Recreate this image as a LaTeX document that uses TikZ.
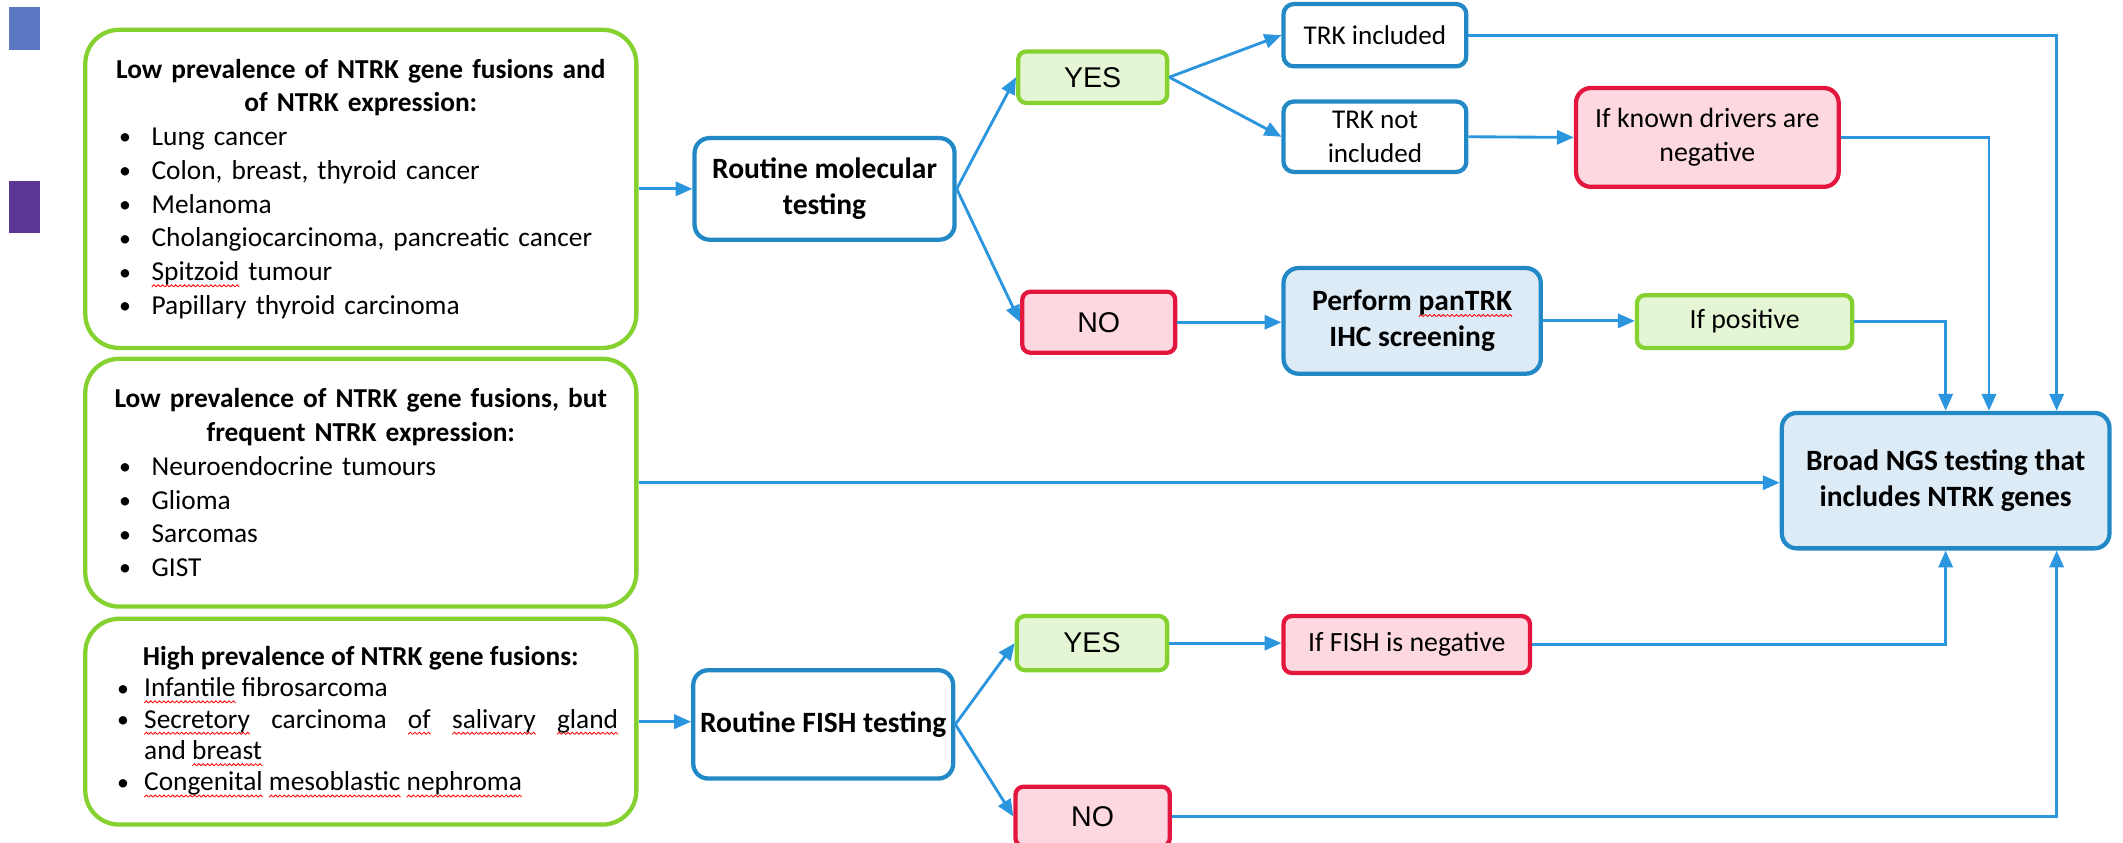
\documentclass[tikz,border=0pt]{standalone}
\usepackage{fontspec}
\setmainfont{Carlito}
\newfontfamily\arialfont{Liberation Sans}
\usetikzlibrary{arrows.meta}
\setlength\parindent{0pt}

\definecolor{leafgreen}{HTML}{84D12F}
\definecolor{leaffill}{HTML}{E5F6D5}
\definecolor{seablue}{HTML}{2288C6}
\definecolor{seafill}{HTML}{DDEBF7}
\definecolor{alertred}{HTML}{E3173E}
\definecolor{alertfill}{HTML}{FDD8E0}
\definecolor{flowblue}{HTML}{2B95DE}
\definecolor{tabblue}{HTML}{5A78C2}
\definecolor{tabpurple}{HTML}{5C3796}

% red wavy underline
\newsavebox\wavebox
\newsavebox\wordbox
\newcommand\spell[1]{\sbox\wordbox{#1}%
  \rlap{\lower2.6pt\hbox to \wd\wordbox{\xleaders\copy\wavebox\hfil}}\usebox\wordbox}
% bullet with hanging room, centred heading line
\newcommand\bul[2][0.48cm]{\makebox[#1][l]{\raisebox{0.3pt}{\fontsize{10}{10}\selectfont\textbullet}}#2}
\newcommand\headline[1]{\makebox[\linewidth]{\bfseries #1}}

\tikzset{
  group/.style={draw=leafgreen, line width=1.8pt, rounded corners=0.5cm,
    text width=7.14cm, align=left, inner sep=0pt, minimum width=8.14cm,
    font=\fontsize{11.5}{14.2}\selectfont},
  testbox/.style={draw=seablue, line width=1.8pt, rounded corners=0.22cm,
    align=center, inner sep=0pt, font=\bfseries\fontsize{12.4}{15.3}\selectfont},
  trkbox/.style={draw=seablue, line width=1.8pt, rounded corners=0.15cm,
    align=center, inner sep=0pt, font=\fontsize{11.4}{14.4}\selectfont},
  yesbox/.style={draw=leafgreen, fill=leaffill, line width=1.8pt, rounded corners=0.12cm,
    align=center, inner sep=0pt, font=\arialfont\fontsize{12}{14}\selectfont},
  nobox/.style={draw=alertred, fill=alertfill, line width=1.8pt, rounded corners=0.12cm,
    align=center, inner sep=0pt, font=\arialfont\fontsize{12}{14}\selectfont},
  flow/.style={draw=flowblue, line width=1.2pt, -{Triangle[length=0.25cm,width=0.21cm]}}
}

\begin{document}
\sbox\wavebox{\pgfpicture
  \pgfpathrectangle{\pgfpointorigin}{\pgfpoint{1.8pt}{0.9pt}}%
  \pgfusepath{use as bounding box}%
  \pgfsetlinewidth{0.35pt}\pgfsetstrokecolor{red}%
  \pgfpathmoveto{\pgfpoint{0pt}{0pt}}%
  \pgfpathlineto{\pgfpoint{0.9pt}{0.9pt}}%
  \pgfpathlineto{\pgfpoint{1.8pt}{0pt}}%
  \pgfusepath{stroke}%
\endpgfpicture}%
\begin{tikzpicture}
\useasboundingbox (0,0) rectangle (31.36,-12.452);

% Marking tabs on the left edge
\fill [tabblue] (0.14,-0.10) rectangle (0.59,-0.74);%
\fill [tabpurple] (0.14,-2.68) rectangle (0.59,-3.44);%

% Drawing groups of tumours
\node [group, minimum height=4.70cm] (lowboth) at (5.33,-2.79) {%
  \headline{Low prevalence of NTRK gene fusions and}\\
  \headline{of NTRK expression:}\\
  \bul{Lung cancer}\\
  \bul{Colon, breast, thyroid cancer}\\
  \bul{Melanoma}\\
  \bul{Cholangiocarcinoma, pancreatic cancer}\\
  \bul{\spell{Spitzoid} tumour}\\
  \bul{Papillary thyroid carcinoma}};%

\node [group, minimum height=3.66cm] (lowfus) at (5.33,-7.13) {%
  \headline{Low prevalence of NTRK gene fusions, but}\\
  \headline{frequent NTRK expression:}\\
  \bul{Neuroendocrine tumours}\\
  \bul{Glioma}\\
  \bul{Sarcomas}\\
  \bul{GIST}};%

\node [group, minimum height=3.04cm, text width=7.2cm, align=justify,
  font=\fontsize{11.5}{13.2}\selectfont] (highfus) at (5.33,-10.66) {%
  \headline{High prevalence of NTRK gene fusions:}\par
  \bul[0.4cm]{\spell{Infantile} fibrosarcoma}\par
  \hangindent=0.4cm\hangafter=1 \rightskip=-0.2cm
  \bul[0.4cm]{\spell{Secretory} carcinoma \spell{of} \spell{salivary} \spell{gland}\linebreak and \spell{breast}}\par
  \rightskip=0pt
  \bul[0.4cm]{\spell{Congenital} \spell{mesoblastic} \spell{nephroma}}\par};%

% Drawing test boxes
\node [testbox, minimum width=3.84cm, minimum height=1.50cm] (moltest) at (12.18,-2.79) {Routine molecular\\ testing};%
\node [testbox, minimum width=3.84cm, minimum height=1.60cm] (fishtest) at (12.16,-10.70) {Routine FISH testing};%
\node [testbox, fill=seafill, minimum width=3.80cm, minimum height=1.56cm] (pantrk) at (20.86,-4.74) {Perform \spell{panTRK}\\ IHC screening};%
\node [testbox, fill=seafill, minimum width=4.84cm, minimum height=2.00cm] (broad) at (28.74,-7.10) {Broad NGS testing that\\ includes NTRK genes};%

% Drawing answer boxes
\node [yesbox, minimum width=2.20cm, minimum height=0.76cm] (molyes) at (16.14,-1.14) {YES};%
\node [nobox, minimum width=2.26cm, minimum height=0.90cm] (molno) at (16.23,-4.76) {NO};%
\node [yesbox, minimum width=2.22cm, minimum height=0.80cm] (fishyes) at (16.13,-9.50) {YES};%
\node [nobox, minimum width=2.28cm, minimum height=0.88cm] (fishno) at (16.14,-12.06) {NO};%

% Drawing outcome boxes
\node [trkbox, minimum width=2.70cm, minimum height=0.92cm] (trkin) at (20.31,-0.52) {TRK included};%
\node [trkbox, minimum width=2.70cm, minimum height=1.04cm] (trkout) at (20.31,-2.02) {TRK not\\ included};%
\node [nobox, font=\fontsize{11.7}{14.4}\selectfont, rounded corners=0.22cm,
  minimum width=3.88cm, minimum height=1.46cm] (drivers) at (25.22,-2.03) {If known drivers are\\ negative};%
\node [yesbox, font=\fontsize{11.7}{14.4}\selectfont,
  minimum width=3.18cm, minimum height=0.78cm] (positive) at (25.77,-4.75) {If positive};%
\node [nobox, font=\fontsize{11.7}{14.4}\selectfont,
  minimum width=3.64cm, minimum height=0.84cm] (fishneg) at (20.78,-9.52) {If FISH is negative};%

% Drawing arrows of the molecular branch
\draw [flow] (lowboth.east) -- (moltest.west);%
\draw [flow] (moltest.east) -- (molyes.west);%
\draw [flow] (moltest.east) -- (molno.west);%
\draw [flow] (molyes.east) -- (trkin.west);%
\draw [flow] (molyes.east) -- (trkout.west);%
\draw [flow] (trkout.east) -- (drivers.west);%
\draw [flow] (molno.east) -- (pantrk.west |- molno.east);%
\draw [flow] (pantrk.east) -- (positive.west |- pantrk.east);%

% Drawing arrows into the NGS box
\draw [flow] (trkin.east) -| ([xshift=1.64cm]broad.north);%
\draw [flow] (drivers.east) -| ([xshift=0.64cm]broad.north);%
\draw [flow] (positive.east) -| (broad.north);%
\draw [flow] (lowfus.east) -- (broad.west |- lowfus.east);%
\draw [flow] (fishneg.east) -| (broad.south);%
\draw [flow] (fishno.east) -| ([xshift=1.64cm]broad.south);%

% Drawing arrows of the FISH branch
\draw [flow] (highfus.east) -- (fishtest.west |- highfus.east);%
\draw [flow] (fishtest.east) -- (fishyes.west);%
\draw [flow] (fishtest.east) -- (fishno.west);%
\draw [flow] (fishyes.east) -- (fishneg.west |- fishyes.east);%
\end{tikzpicture}
\end{document}
